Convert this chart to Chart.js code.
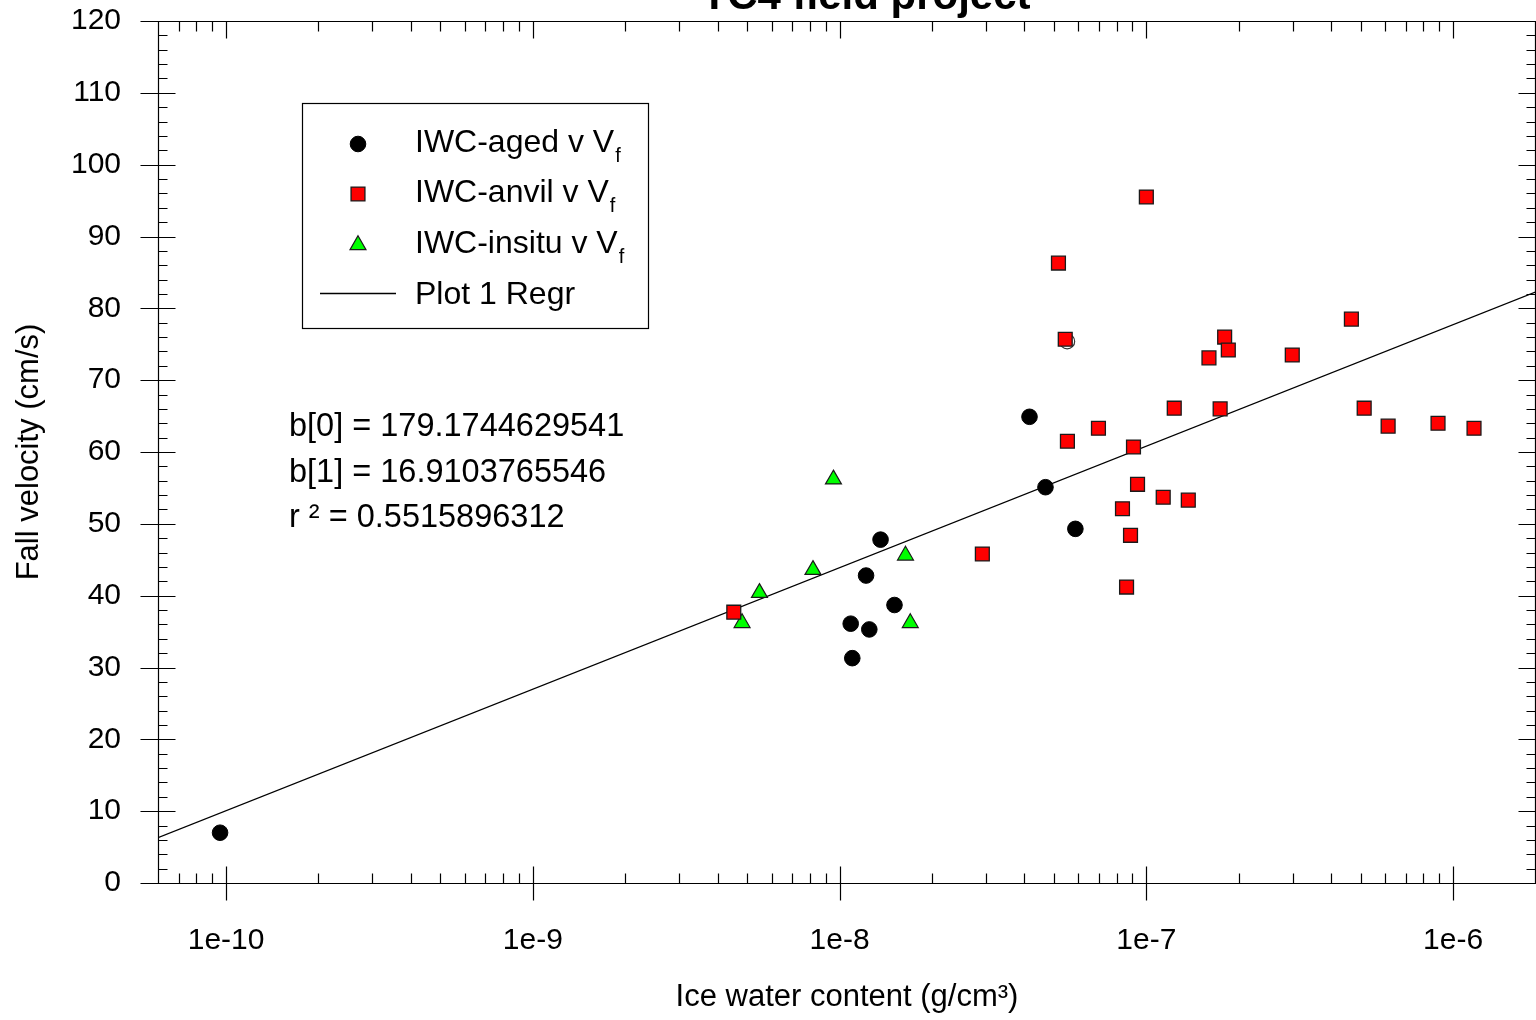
<!DOCTYPE html>
<html>
<head>
<meta charset="utf-8">
<script src="https://cdn.jsdelivr.net/npm/chart.js@4"></script>
<style>
  html, body { margin: 0; padding: 0; background: #fff; }
  #wrap { width: 1536px; height: 1020px; }
</style>
</head>
<body>
<div id="wrap"><canvas id="fall-chart" width="1536" height="1020"></canvas></div>
<script>
const xDecades = [1e-10, 1e-9, 1e-8, 1e-7, 1e-6];
const xMin = 6e-11, xMax = 1.863e-6;

const agedX = [9.56e-11, 1.087e-8, 1.10e-8, 1.25e-8, 1.22e-8, 1.36e-8, 1.51e-8, 4.16e-8, 4.69e-8, 5.87e-8];
const agedY = [7.0, 36.1, 31.3, 35.3, 42.8, 47.8, 38.7, 64.9, 55.1, 49.3];
const openX = [5.52e-8];
const openY = [75.4];

const anvilX = [4.52e-9, 2.92e-8, 5.17e-8, 5.44e-8, 5.53e-8, 6.98e-8, 8.36e-8, 8.62e-8, 8.88e-8, 9.08e-8, 9.36e-8, 1.0e-7,
  1.135e-7, 1.233e-7, 1.37e-7, 1.60e-7, 1.74e-7, 1.80e-7, 1.85e-7, 2.99e-7, 4.66e-7, 5.13e-7, 6.14e-7, 8.93e-7, 1.17e-6];
const anvilY = [37.7, 45.8, 86.3, 75.7, 61.5, 63.3, 52.1, 41.2, 48.4, 60.7, 55.5, 95.5,
  53.7, 66.1, 53.3, 73.1, 66.0, 76.0, 74.2, 73.5, 78.5, 66.1, 63.6, 64.0, 63.3];

const insituX = [4.81e-9, 5.48e-9, 8.19e-9, 9.55e-9, 1.64e-8, 1.70e-8];
const insituY = [36.2, 40.4, 43.6, 56.2, 45.6, 36.2];

const regrX = [6e-11, 1.863e-6];
const regrY = [6.3, 82.3];

const statLines = ['b[0] = 179.1744629541', 'b[1] = 16.9103765546', 'r \u00b2 = 0.5515896312'];
const legendNames = ['IWC-aged v V', 'IWC-anvil v V', 'IWC-insitu v V', 'Plot 1 Regr'];

const FONT = "'Liberation Sans', Arial, Helvetica, sans-serif";

function pts(xs, ys) {
    return xs.map((x, i) => ({ x: x, y: ys[i] }));
}

// frame, tick marks, legend, title and regression text
const extras = {
    id: 'extras',
    afterDraw(chart) {
        const ctx = chart.ctx;
        const a = chart.chartArea;
        const xs = chart.scales.x, ys = chart.scales.y;
        const L = a.left + 0.5, R = a.right - 0.5, T = a.top + 0.5, B = a.bottom + 0.5;
        ctx.save();
        ctx.strokeStyle = '#000';
        ctx.lineWidth = 1.2;
        ctx.beginPath();
        ctx.moveTo(L - 18, T); ctx.lineTo(R + 2, T);
        ctx.moveTo(L - 18, B); ctx.lineTo(R + 2, B);
        ctx.moveTo(L, T); ctx.lineTo(L, B);
        ctx.moveTo(R, T); ctx.lineTo(R, B);

        // y ticks
        for (let v = 0; v <= 120; v += 2) {
            const y = Math.round(ys.getPixelForValue(v)) + 0.5;
            const major = v % 10 === 0;
            const len = major ? 17 : 9;
            ctx.moveTo(major ? L - 18 : L, y); ctx.lineTo(L + len, y);
            ctx.moveTo(R - len, y); ctx.lineTo(R + 2, y);
        }
        // x ticks
        for (let d = -11; d <= -6; d++) {
            for (let m = 1; m <= 9; m++) {
                const v = m * Math.pow(10, d);
                if (v < xMin * 0.999 || v > xMax) continue;
                const x = Math.round(xs.getPixelForValue(v)) + 0.5;
                const len = m === 1 ? 17 : 10;
                ctx.moveTo(x, m === 1 ? B + 17 : B); ctx.lineTo(x, B - len);
                ctx.moveTo(x, T); ctx.lineTo(x, T + len);
            }
        }
        ctx.stroke();

        // title (cut by the top edge)
        ctx.fillStyle = '#000';
        ctx.font = 'bold 42px ' + FONT;
        ctx.textAlign = 'center';
        ctx.textBaseline = 'alphabetic';
        ctx.fillText('TC4 field project', 866, 9);

        // regression text
        ctx.font = '32.5px ' + FONT;
        ctx.textAlign = 'left';
        statLines.forEach((s, i) => ctx.fillText(s, a.left + 131, 436 + i * 45.5));

        // legend box
        ctx.lineWidth = 1.2;
        ctx.strokeRect(302.5, 103.5, 346, 225);
        const baseY = [152, 202, 253, 304];
        const ds = chart.data.datasets;
        for (let i = 0; i < 3; i++) {
            const d = ds[i];
            ctx.fillStyle = d.backgroundColor;
            ctx.strokeStyle = d.borderColor;
            ctx.lineWidth = d.borderWidth;
            Chart.helpers.drawPoint(ctx, {
                pointStyle: d.pointStyle, radius: d.pointRadius, rotation: 0, borderWidth: d.borderWidth
            }, 358, baseY[i] - 8);
        }
        ctx.strokeStyle = ds[3].borderColor;
        ctx.lineWidth = ds[3].borderWidth;
        ctx.beginPath();
        ctx.moveTo(320, 293.5); ctx.lineTo(396, 293.5);
        ctx.stroke();

        ctx.fillStyle = '#000';
        legendNames.forEach((name, i) => {
            ctx.font = '32px ' + FONT;
            ctx.fillText(name, 415, baseY[i]);
            if (i < 3) {
                const w = ctx.measureText(name).width;
                ctx.font = '20px ' + FONT;
                ctx.fillText('f', 415 + w + 1, baseY[i] + 10);
            }
        });
        ctx.restore();
    }
};

new Chart(document.getElementById('fall-chart').getContext('2d'), {
    type: 'scatter',
    data: {
        datasets: [{
            label: 'IWC-aged v Vf',
            data: pts(agedX, agedY),
            pointStyle: 'circle',
            pointRadius: 7.8,
            backgroundColor: '#000000',
            borderColor: '#000000',
            borderWidth: 1
        }, {
            label: 'IWC-anvil v Vf',
            data: pts(anvilX, anvilY),
            pointStyle: 'rect',
            pointRadius: 9.8,
            backgroundColor: '#ff0000',
            borderColor: '#1a1a1a',
            borderWidth: 1.3
        }, {
            label: 'IWC-insitu v Vf',
            data: pts(insituX, insituY),
            pointStyle: 'triangle',
            pointRadius: 9.2,
            backgroundColor: '#00ff00',
            borderColor: '#1a1a1a',
            borderWidth: 1.2
        }, {
            label: 'Plot 1 Regr',
            type: 'line',
            data: pts(regrX, regrY),
            borderColor: '#000000',
            borderWidth: 1.3,
            pointRadius: 0,
            fill: false
        }, {
            label: 'aged (open)',
            data: pts(openX, openY),
            pointStyle: 'circle',
            pointRadius: 7.5,
            backgroundColor: 'rgba(0,0,0,0)',
            borderColor: '#333333',
            borderWidth: 1.2
        }]
    },
    options: {
        responsive: false,
        animation: false,
        events: [],
        layout: { autoPadding: false, padding: { top: 21, left: 0, right: 0, bottom: 0 } },
        plugins: {
            legend: { display: false },
            tooltip: { enabled: false }
        },
        scales: {
            x: {
                type: 'logarithmic',
                min: xMin,
                max: xMax,
                afterBuildTicks: s => { s.ticks = xDecades.map(v => ({ value: v })); },
                afterFit: s => { s.height = 137; s.paddingLeft = 0; s.paddingRight = 0; },
                grid: { display: false, drawTicks: false },
                border: { display: false },
                ticks: {
                    color: '#000',
                    font: { family: FONT, size: 30 },
                    padding: 40,
                    maxRotation: 0,
                    autoSkip: false,
                    callback: v => Number(v).toExponential(0)
                },
                title: {
                    display: true,
                    text: 'Ice water content (g/cm\u00b3)',
                    color: '#000',
                    font: { family: FONT, size: 31 },
                    padding: { top: 0, bottom: 4 }
                }
            },
            y: {
                min: 0,
                max: 120,
                afterFit: s => { s.width = 158; s.paddingTop = 0; s.paddingBottom = 0; },
                grid: { display: false, drawTicks: false },
                border: { display: false },
                ticks: {
                    stepSize: 10,
                    color: '#000',
                    font: { family: FONT, size: 30 },
                    padding: 37
                },
                title: {
                    display: true,
                    text: 'Fall velocity (cm/s)',
                    color: '#000',
                    font: { family: FONT, size: 31 },
                    padding: { top: 11, bottom: 0 }
                }
            }
        }
    },
    plugins: [extras]
});
</script>
</body>
</html>
